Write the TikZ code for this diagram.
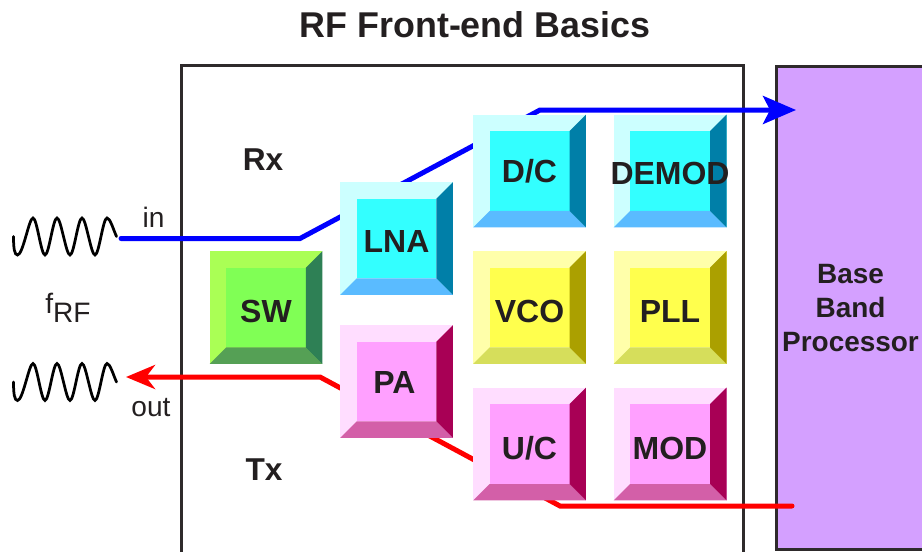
\documentclass[tikz,border=0pt]{standalone}
\usepackage{fontspec}
\setmainfont{Liberation Sans}
\usetikzlibrary{arrows.meta}
\definecolor{inkdark}{HTML}{231F20}
\definecolor{bandpurple}{HTML}{D4A0FF}
\tikzset{
  bevelbox/.style n args={4}{draw=none,fill=#2,minimum size=2.26cm,inner sep=0pt,
    text=inkdark,text height=0.6cm,text depth=0pt,font=\bfseries\fontsize{18.2}{20}\selectfont,
    path picture={
      \coordinate (nw) at (path picture bounding box.north west);
      \coordinate (ne) at (path picture bounding box.north east);
      \coordinate (sw) at (path picture bounding box.south west);
      \coordinate (se) at (path picture bounding box.south east);
      \coordinate (inw) at ([shift={(0.33cm,-0.33cm)}]nw);
      \coordinate (ine) at ([shift={(-0.33cm,-0.33cm)}]ne);
      \coordinate (isw) at ([shift={(0.33cm,0.33cm)}]sw);
      \coordinate (ise) at ([shift={(-0.33cm,0.33cm)}]se);
      \fill[#1] (nw) rectangle (se);
      \fill[#2] (inw) rectangle (ise);
      \fill[#3] (sw) -- (isw) -- (ise) -- (se) -- cycle;
      \fill[#4] (ne) -- (ine) -- (ise) -- (se) -- cycle;
    }},
  cyanbox/.style={bevelbox={HTMLccffff}{HTMLthreeff}{HTMLfivebb}{HTMLzerosf}},
  yellowbox/.style={bevelbox={HTMLffa}{HTMLff4}{HTMLd6d}{HTMLaba}},
  pinkbox/.style={bevelbox={HTMLfdf}{HTMLfaf}{HTMLd35}{HTMLa80}},
  greenbox/.style={bevelbox={HTMLaf5}{HTML8f5}{HTML5a5}{HTML2e8}},
  frameline/.style={draw=inkdark!95!white,line width=0.06cm},
  sigline/.style={line width=0.1cm,line cap=round},
  tag/.style={text=inkdark,font=\fontsize{16}{18}\selectfont},
  bigtag/.style={text=inkdark,font=\bfseries\fontsize{18}{20}\selectfont},
  rfwave/.pic={
    \draw[line width=0.055cm,line cap=round]
      (13.5,0) .. controls (13.5,12) and (14.5,18.5) .. (17.5,18.5)
      .. controls (23,18.5) and (29,-18.5) .. (33,-18.5)
      .. controls (37,-18.5) and (41,18.5) .. (45,18.5)
      .. controls (49,18.5) and (53,-18.5) .. (57,-18.5)
      .. controls (61,-18.5) and (66,18.5) .. (70,18.5)
      .. controls (74,18.5) and (78,-18.5) .. (82,-18.5)
      .. controls (86,-18.5) and (91,18.5) .. (95,18.5)
      .. controls (99,18.5) and (103,-18.5) .. (107,-18.5)
      .. controls (110,-18.5) and (113,-8) .. (116.5,0);
  }
}
\definecolor{HTMLccffff}{HTML}{CCFFFF}
\definecolor{HTMLthreeff}{HTML}{33FFFF}
\definecolor{HTMLfivebb}{HTML}{5ABBFF}
\definecolor{HTMLzerosf}{HTML}{007FA8}
\definecolor{HTMLffa}{HTML}{FFFFAA}
\definecolor{HTMLff4}{HTML}{FFFF4D}
\definecolor{HTMLd6d}{HTML}{D6DE5B}
\definecolor{HTMLaba}{HTML}{ABA000}
\definecolor{HTMLfdf}{HTML}{FFDDFF}
\definecolor{HTMLfaf}{HTML}{FFA0FF}
\definecolor{HTMLd35}{HTML}{D35FA8}
\definecolor{HTMLa80}{HTML}{A80055}
\definecolor{HTMLaf5}{HTML}{AAFF55}
\definecolor{HTML8f5}{HTML}{80FF55}
\definecolor{HTML5a5}{HTML}{55A055}
\definecolor{HTML2e8}{HTML}{2E8055}
\begin{document}
\begin{tikzpicture}[x=0.02cm,y=-0.02cm]
  \useasboundingbox (0,0) rectangle (922,551);
  \clip (0,0) rectangle (922,551);
  \node[bigtag,font=\bfseries\fontsize{20.4}{24}\selectfont] (title) at (475,25) {RF Front-end Basics};
  % board and processor
  \node[frameline,minimum width=11.26cm,minimum height=10.7cm] (board) at (462.5,332.5) {};
  \node[frameline,fill=bandpurple,minimum width=2.98cm,minimum height=9.68cm,align=center,
    text=inkdark,font=\bfseries\fontsize{15.9}{19.3}\selectfont] (baseband) at (850.5,308) {Base\\Band\\Processor};
  % signal paths
  \coordinate (inStart) at (121,238.5);
  \coordinate (inBend) at (300,238.5);
  \coordinate (inTop) at (540,110);
  \coordinate (inEnd) at (796,110);
  \coordinate (outStart) at (792,506);
  \coordinate (outBend) at (560,506);
  \coordinate (outMid) at (320,377);
  \coordinate (outEnd) at (126,377);
  \draw[sigline,blue,-{Stealth[length=0.66cm,width=0.56cm,inset=0.14cm]}] (inStart) -- (inBend) -- (inTop) -- (inEnd);
  \draw[sigline,red,-{Stealth[length=0.58cm,width=0.48cm,inset=0.18cm]}] (outStart) -- (outBend) -- (outMid) -- (outEnd);
  % blocks
  \node[greenbox] (SW) at (266,307.5) {SW};
  \node[cyanbox,text height=0.56cm] (LNA) at (396.5,238.5) {LNA};
  \node[pinkbox,text height=0.46cm] (PA) at (396.5,381.5) {\hspace*{-0.08cm}PA};
  \node[cyanbox,text height=0.46cm] (DC) at (529.5,171) {D/C};
  \node[yellowbox] (VCO) at (529.5,307.5) {VCO};
  \node[pinkbox] (UC) at (529.5,444) {U/C};
  \node[cyanbox,text height=0.56cm] (DEMOD) at (670,171) {\makebox[0pt]{DEMOD}};
  \node[yellowbox] (PLL) at (670,307.5) {PLL};
  \node[pinkbox] (MOD) at (670,444) {MOD};
  % labels
  \node[bigtag] (Rx) at (263,160) {Rx};
  \node[bigtag] (Tx) at (264,470) {Tx};
  \node[tag] (in) at (153.5,217) {in};
  \node[tag] (out) at (151,408) {out};
  \node[tag] (fRF) at (68,308) {f\raisebox{-5pt}{RF}};
  \pic at (0,236.5) {rfwave};
  \pic at (0,382) {rfwave};
\end{tikzpicture}
\end{document}
